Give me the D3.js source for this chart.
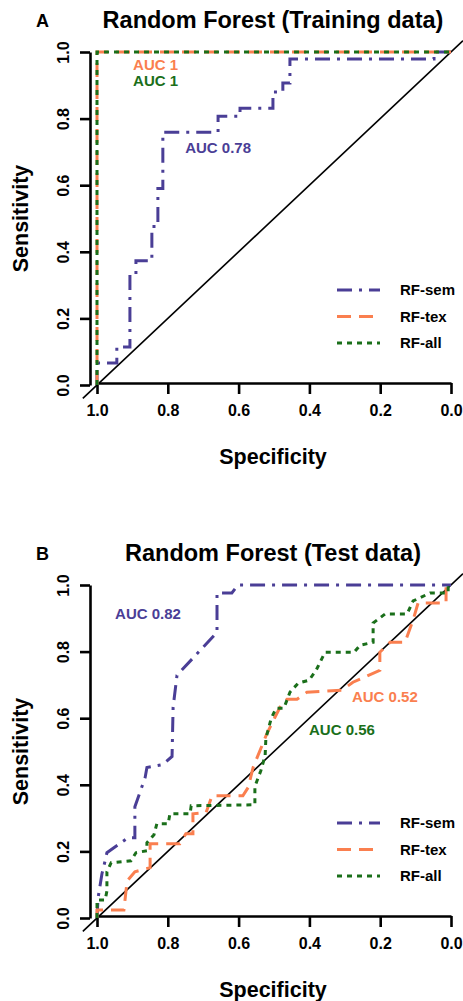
<!DOCTYPE html>
<html>
<head>
<script src="https://d3js.org/d3.v7.min.js"></script>
<style>
    body {
        margin: 0;
        background: #ffffff;
        font-family: 'Liberation Sans', Arial, sans-serif;
    }
</style>
</head>
<body>
<svg id="chart" width="463" height="1001"></svg>
<script>
    // axis ticks (specificity / sensitivity)
    const tickValues = [0, 0.2, 0.4, 0.6, 0.8, 1.0];
    const seriesNames = ["RF-sem", "RF-tex", "RF-all"];

    // ROC curves, points are [specificity, sensitivity]
    const trainSem = [[1, 0], [1, 0.066], [0.944, 0.066], [0.944, 0.114], [0.907, 0.114], [0.907, 0.331],
        [0.89, 0.331], [0.89, 0.373], [0.845, 0.373], [0.845, 0.476], [0.828, 0.476], [0.828, 0.59],
        [0.814, 0.59], [0.814, 0.759], [0.658, 0.759], [0.658, 0.807], [0.596, 0.807], [0.596, 0.831],
        [0.503, 0.831], [0.503, 0.88], [0.475, 0.88], [0.475, 0.907], [0.455, 0.907], [0.455, 0.979],
        [0.048, 0.979], [0.048, 1], [0, 1]];
    const trainTex = [[1, 0], [1, 1], [0, 1]];
    const trainAll = [[1, 0], [1, 1], [0, 1]];

    const testSem = [[1, 0], [0.997, 0.06], [0.986, 0.133], [0.977, 0.172], [0.972, 0.196], [0.912, 0.241],
        [0.893, 0.241], [0.893, 0.334], [0.864, 0.422], [0.859, 0.452], [0.814, 0.461], [0.788, 0.485],
        [0.785, 0.633], [0.774, 0.729], [0.661, 0.858], [0.661, 0.976], [0.619, 0.976], [0.602, 1], [0, 1]];
    const testTex = [[1, 0], [1, 0.024], [0.924, 0.024], [0.915, 0.111], [0.893, 0.139], [0.85, 0.151],
        [0.85, 0.223], [0.766, 0.223], [0.749, 0.253], [0.729, 0.253], [0.729, 0.313], [0.692, 0.316],
        [0.675, 0.367], [0.588, 0.367], [0.573, 0.392], [0.559, 0.452], [0.52, 0.554], [0.483, 0.633],
        [0.463, 0.657], [0.435, 0.657], [0.407, 0.678], [0.308, 0.684], [0.277, 0.708], [0.201, 0.744],
        [0.201, 0.798], [0.172, 0.828], [0.13, 0.828], [0.107, 0.895], [0.093, 0.946], [0.014, 0.946],
        [0.014, 1], [0, 1]];
    const testAll = [[1, 0], [1, 0.054], [0.977, 0.054], [0.972, 0.081], [0.972, 0.139], [0.96, 0.166],
        [0.904, 0.172], [0.89, 0.196], [0.859, 0.202], [0.859, 0.226], [0.839, 0.25], [0.831, 0.283],
        [0.799, 0.283], [0.794, 0.313], [0.737, 0.313], [0.734, 0.337], [0.554, 0.34], [0.554, 0.395],
        [0.537, 0.443], [0.525, 0.488], [0.523, 0.539], [0.508, 0.599], [0.494, 0.63], [0.472, 0.63],
        [0.455, 0.678], [0.432, 0.705], [0.401, 0.714], [0.381, 0.744], [0.356, 0.798], [0.274, 0.798],
        [0.257, 0.819], [0.22, 0.828], [0.22, 0.886], [0.186, 0.913], [0.124, 0.913], [0.107, 0.952],
        [0.059, 0.976], [0.008, 0.976], [0.008, 1], [0, 1]];

    const trainAuc = ["AUC 0.78", "AUC 1", "AUC 1"];
    const testAuc = ["AUC 0.82", "AUC 0.52", "AUC 0.56"];

    const colors = ["#4a3e96", "#fa7f4f", "#1a6f1a"];
    const dashes = ["15,7,3,7", "14,8", "5,5"];

    const panels = [
        {
            letter: "A", title: "Random Forest (Training data)", top: 0,
            curves: [trainSem, trainTex, trainAll], auc: trainAuc,
            aucPos: [[0.751, 0.697], [0.898, 0.946], [0.898, 0.898]]
        },
        {
            letter: "B", title: "Random Forest (Test data)", top: 533,
            curves: [testSem, testTex, testAll], auc: testAuc,
            aucPos: [[0.949, 0.898], [0.28, 0.649], [0.401, 0.55]]
        }
    ];

    var svg = d3.select("#chart");

    var x = d3.scaleLinear().domain([1, 0]).range([97, 451]);
    var y = d3.scaleLinear().domain([0, 1]).range([385, 52]);

    var line = d3.line()
        .x(function (d) { return x(d[0]); })
        .y(function (d) { return y(d[1]); });

    panels.forEach(function (p) {
        var g = svg.append("g").attr("transform", "translate(0," + p.top + ")");

        // reference diagonal
        g.append("line")
            .attr("x1", x(1.04)).attr("y1", y(-0.04))
            .attr("x2", x(-0.034)).attr("y2", y(1.034))
            .style("stroke", "#000")
            .style("stroke-width", 1.6);

        // axes
        var yAxis = d3.axisLeft(y).tickValues(tickValues).tickFormat(d3.format(".1f"))
            .tickSize(10).tickSizeOuter(0);
        var xAxis = d3.axisBottom(x).tickValues(tickValues).tickFormat(d3.format(".1f"))
            .tickSize(11).tickSizeOuter(0).tickPadding(11);

        var ya = g.append("g").attr("transform", "translate(90,0)").call(yAxis);
        var xa = g.append("g").attr("transform", "translate(0,383)").call(xAxis);

        [ya, xa].forEach(function (a) {
            a.selectAll("path,line").style("stroke", "#000").style("stroke-width", 2.6);
            a.selectAll("text")
                .style("fill", "#000")
                .style("font-size", "16px")
                .style("font-weight", "bold")
                .style("font-family", "'Liberation Sans', Arial, sans-serif");
        });
        ya.selectAll("text")
            .attr("x", null).attr("dy", null)
            .attr("text-anchor", "middle")
            .attr("transform", "translate(-21,0) rotate(-90)");

        // curves
        p.curves.forEach(function (c, i) {
            g.append("path")
                .datum(c)
                .attr("d", line)
                .style("fill", "none")
                .style("stroke", colors[i])
                .style("stroke-width", 3)
                .style("stroke-dasharray", dashes[i]);
        });

        // AUC labels
        p.auc.forEach(function (t, i) {
            g.append("text")
                .attr("x", x(p.aucPos[i][0]))
                .attr("y", y(p.aucPos[i][1]))
                .style("fill", colors[i])
                .style("font-size", "15px")
                .style("font-weight", "bold")
                .text(t);
        });

        // legend
        seriesNames.forEach(function (s, i) {
            var ly = 290 + i * 26.5;
            g.append("line")
                .attr("x1", 337).attr("x2", 380)
                .attr("y1", ly).attr("y2", ly)
                .style("stroke", colors[i])
                .style("stroke-width", 3)
                .style("stroke-dasharray", dashes[i]);
            g.append("text")
                .attr("x", 400).attr("y", ly + 5)
                .style("font-size", "15px")
                .style("font-weight", "bold")
                .text(s);
        });

        // titles
        g.append("text")
            .attr("x", 36).attr("y", 27)
            .style("font-size", "18px")
            .style("font-weight", "bold")
            .text(p.letter);
        g.append("text")
            .attr("x", 273).attr("y", 28)
            .attr("text-anchor", "middle")
            .style("font-size", "23.5px")
            .style("font-weight", "bold")
            .text(p.title);
        g.append("text")
            .attr("x", 273).attr("y", 464)
            .attr("text-anchor", "middle")
            .style("font-size", "21.5px")
            .style("font-weight", "bold")
            .text("Specificity");
        g.append("text")
            .attr("transform", "translate(28," + ((y(0) + y(1)) / 2) + ") rotate(-90)")
            .attr("text-anchor", "middle")
            .style("font-size", "21.5px")
            .style("font-weight", "bold")
            .text("Sensitivity");
    });
</script>
</body>
</html>
